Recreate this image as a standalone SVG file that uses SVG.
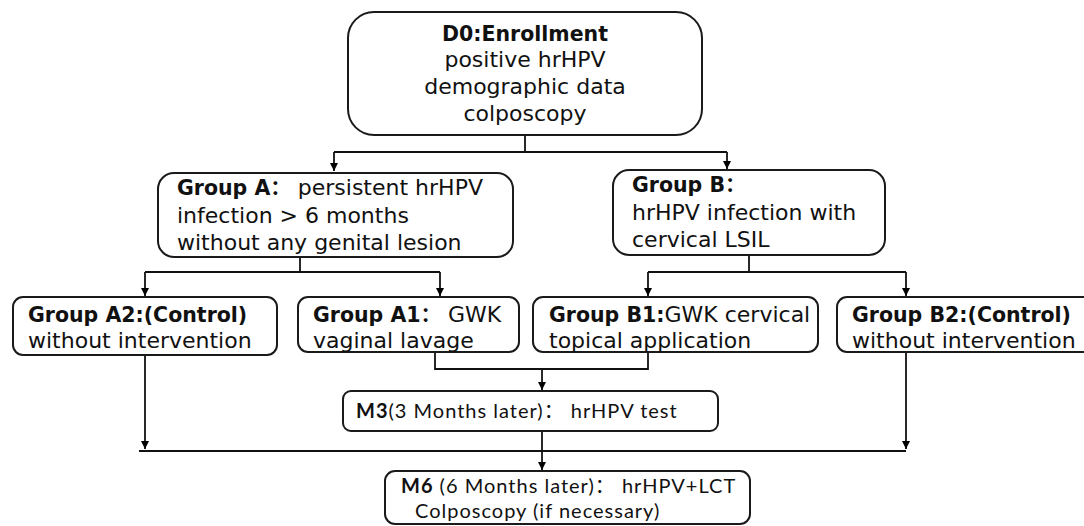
<svg xmlns="http://www.w3.org/2000/svg" width="1084" height="526" viewBox="0 0 1084 526">
<defs>
<marker id="arr" viewBox="0 0 10 10" refX="10" refY="5" markerWidth="8" markerHeight="8" markerUnits="userSpaceOnUse" orient="auto">
<path d="M0,0 L10,5 L0,10 z" fill="#000"/>
</marker>
</defs>
<style>
.box{fill:#fff;stroke:#1a1a1a;stroke-width:2}
.t{font-family:"DejaVu Sans","Noto Sans CJK SC",sans-serif;font-size:22px;fill:#111}
.b{font-weight:bold}
.t .b{font-size:20.5px}
.c{font-family:Lato,"Noto Sans CJK SC",sans-serif;font-size:20px;letter-spacing:1px;fill:#111}
.ln{fill:none;stroke:#111;stroke-width:1.8}
</style>
<rect width="1084" height="526" fill="#fff"/>
<g id="connectors">
<path class="ln" d="M525,135 V152"/>
<path class="ln" d="M334,152 H727"/>
<path class="ln" d="M334,152 V171" marker-end="url(#arr)"/>
<path class="ln" d="M727,152 V169" marker-end="url(#arr)"/>
<path class="ln" d="M300,257 V272"/>
<path class="ln" d="M145,272 H440"/>
<path class="ln" d="M145,272 V296" marker-end="url(#arr)"/>
<path class="ln" d="M440,272 V296" marker-end="url(#arr)"/>
<path class="ln" d="M749,255 V272"/>
<path class="ln" d="M648,272 H906"/>
<path class="ln" d="M648,272 V296" marker-end="url(#arr)"/>
<path class="ln" d="M906,272 V296" marker-end="url(#arr)"/>
<path class="ln" d="M435,352 V369 H648 V352"/>
<path class="ln" d="M542,369 V390" marker-end="url(#arr)"/>
<path class="ln" d="M145,355 V449" marker-end="url(#arr)"/>
<path class="ln" d="M906,352 V449" marker-end="url(#arr)"/>
<path class="ln" d="M139,451 H906"/>
<path class="ln" d="M542,431 V470" marker-end="url(#arr)"/>
</g>
<g id="d0">
<rect class="box" x="348" y="12" width="354" height="123" rx="26"/>
<text class="t" text-anchor="middle" x="525"><tspan class="b" x="525" y="41">D0:Enrollment</tspan><tspan x="525" y="67">positive hrHPV</tspan><tspan x="525" y="94">demographic data</tspan><tspan x="525" y="121">colposcopy</tspan></text>
</g>
<g id="groupA">
<rect class="box" x="158" y="173" width="355" height="84" rx="16"/>
<text class="t" x="177"><tspan class="b" x="177" y="195">Group A：</tspan><tspan> persistent hrHPV</tspan><tspan x="177" y="223">infection &gt; 6 months</tspan><tspan x="177" y="250">without any genital lesion</tspan></text>
</g>
<g id="groupB">
<rect class="box" x="613" y="170" width="272" height="85" rx="16"/>
<text class="t" x="632"><tspan class="b" x="632" y="192">Group B：</tspan><tspan x="632" y="220">hrHPV infection with</tspan><tspan x="632" y="247">cervical LSIL</tspan></text>
</g>
<g id="groupA2">
<rect class="box" x="13" y="297" width="264" height="58" rx="10"/>
<text class="t" x="28"><tspan class="b" x="28" y="322">Group A2:(Control)</tspan><tspan x="28" y="348">without intervention</tspan></text>
</g>
<g id="groupA1">
<rect class="box" x="298" y="297" width="221" height="55" rx="10"/>
<text class="t" x="313"><tspan class="b" x="313" y="322">Group A1：</tspan><tspan> GWK</tspan><tspan x="313" y="348">vaginal lavage</tspan></text>
</g>
<g id="groupB1">
<rect class="box" x="533" y="297" width="285" height="55" rx="10"/>
<text class="t" x="549"><tspan class="b" x="549" y="322">Group B1:</tspan><tspan>GWK cervical</tspan><tspan x="549" y="348">topical application</tspan></text>
</g>
<g id="groupB2">
<rect class="box" x="837" y="297" width="262" height="55" rx="10"/>
<text class="t" x="852"><tspan class="b" x="852" y="322">Group B2:(Control)</tspan><tspan x="852" y="348">without intervention</tspan></text>
</g>
<g id="m3">
<rect class="box" x="343" y="391" width="375" height="40" rx="8"/>
<text class="c" x="356" y="418"><tspan class="b">M3</tspan>(3 Months later)：<tspan> hrHPV test</tspan></text>
</g>
<g id="m6">
<rect class="box" x="385" y="471" width="365" height="53" rx="10"/>
<text class="c" x="401"><tspan x="401" y="493"><tspan class="b">M6</tspan> (6 Months later)：  hrHPV+LCT</tspan><tspan x="415" y="518">Colposcopy (if necessary)</tspan></text>
</g>
</svg>
